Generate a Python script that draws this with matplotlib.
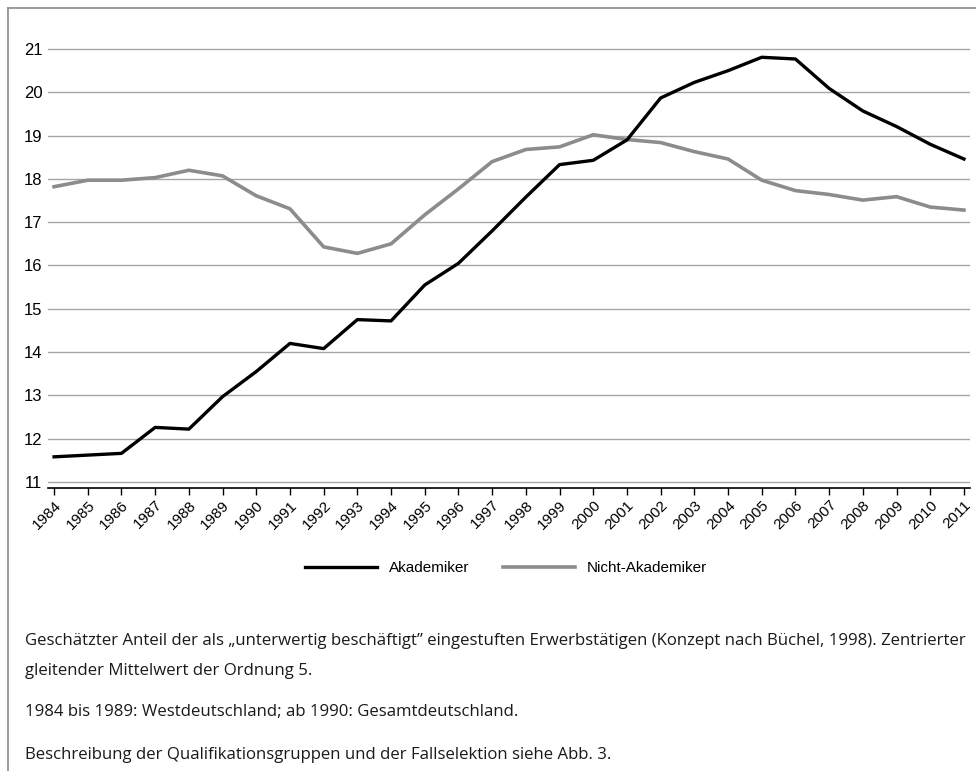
import matplotlib.pyplot as plt
from matplotlib.lines import Line2D

# estimated share "unterwertig beschaeftigt" (%), centered moving average
years = list(range(1984, 2012))
akademiker = [11.58, 11.62, 11.66, 12.26, 12.22, 12.97, 13.55, 14.20, 14.08, 14.75,
              14.72, 15.55, 16.05, 16.80, 17.58, 18.33, 18.43, 18.90, 19.87, 20.23,
              20.50, 20.81, 20.77, 20.09, 19.57, 19.21, 18.80, 18.46]
nicht_akademiker = [17.82, 17.97, 17.97, 18.03, 18.20, 18.07, 17.61, 17.31, 16.43, 16.28,
                    16.50, 17.17, 17.77, 18.40, 18.68, 18.74, 19.02, 18.91, 18.84, 18.63,
                    18.46, 17.97, 17.73, 17.64, 17.51, 17.59, 17.35, 17.28]
y_ticks = [11, 12, 13, 14, 15, 16, 17, 18, 19, 20, 21]

caption = [
    "Geschätzter Anteil der als \u201eunterwertig beschäftigt\u201d eingestuften Erwerbstätigen (Konzept nach Büchel, 1998). Zentrierter",
    "gleitender Mittelwert der Ordnung 5.",
    "1984 bis 1989: Westdeutschland; ab 1990: Gesamtdeutschland.",
    "Beschreibung der Qualifikationsgruppen und der Fallselektion siehe Abb. 3.",
]

W, H = 976, 771
fig = plt.figure(figsize=(W / 100, H / 100), dpi=100)
plt.rcParams['font.family'] = ['Liberation Sans', 'DejaVu Sans']

# axes placed in pixel terms
left, right, top, bottom = 48, 970, 30, 488
ax = fig.add_axes([left / W, 1 - bottom / H, (right - left) / W, (bottom - top) / H])

ax.plot(years, nicht_akademiker, color='#8c8c8c', lw=2.6, label='Nicht-Akademiker', zorder=3)
ax.plot(years, akademiker, color='black', lw=2.4, label='Akademiker', zorder=4)

ax.set_xlim(1983.82, 2011.18)
ax.set_ylim(10.86, 21.44)
ax.set_yticks(y_ticks)
ax.set_xticks(years)
ax.set_xticklabels([str(y) for y in years], rotation=45, ha='right', rotation_mode='anchor')
ax.tick_params(axis='y', length=0, pad=4, labelsize=12)
ax.tick_params(axis='x', length=5, width=1, color='black', pad=2, labelsize=11)
ax.yaxis.grid(True, color='#a6a6a6', lw=1)
ax.set_axisbelow(True)
for s in ['top', 'right', 'left']:
    ax.spines[s].set_visible(False)
ax.spines['bottom'].set_linewidth(1.2)

handles, labels = ax.get_legend_handles_labels()
fig.legend(handles[::-1], labels[::-1], loc='center', bbox_to_anchor=(506 / W, 1 - 568 / H),
           ncol=2, frameon=False, fontsize=11, handlelength=4.7, columnspacing=2.2, handletextpad=0.8)

# caption text below the chart
cap_y = [641, 671, 712, 755]
for txt, yy in zip(caption, cap_y):
    fig.text(25 / W, 1 - yy / H, txt, ha='left', va='center', fontsize=12.05,
             family=['Open Sans', 'DejaVu Sans'], color='#1a1a1a')

# frame lines on the left and top
fig.add_artist(Line2D([8 / W, 8 / W], [0, 1 - 8 / H], color='#8a8a8a', lw=1.2))
fig.add_artist(Line2D([8 / W, 1], [1 - 8 / H, 1 - 8 / H], color='#8a8a8a', lw=1.2))

fig.savefig('out.png', dpi=100)
